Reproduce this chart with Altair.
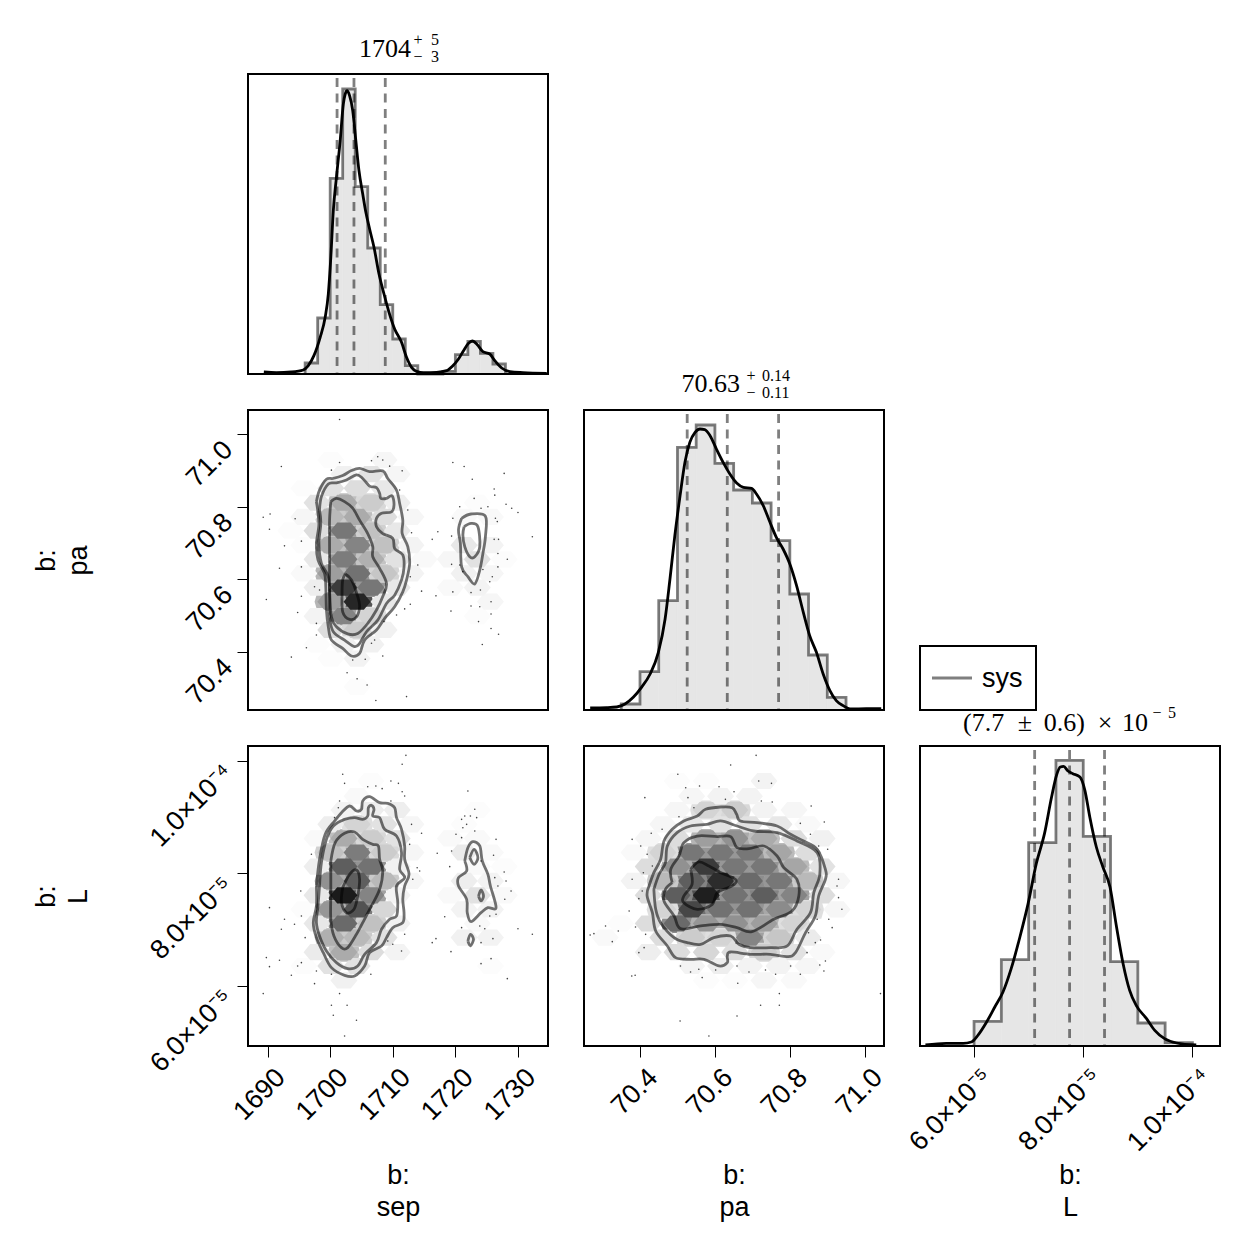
import altair as alt
import pandas as pd

SANS = "Liberation Sans"
SERIF = "Liberation Serif"

# ---------- axis domains ----------
sep_domain = [1686.87, 1734.8]
pa_x_domain = [70.2505, 71.0514]
pa_y_domain = [70.239, 71.067]
L_x_domain = [5.01, 10.505]
L_y_domain = [4.935, 10.261]
sep_ticks = [1690, 1700, 1710, 1720, 1730]
pa_ticks = [70.4, 70.6, 70.8, 71.0]
L_ticks = [6, 8, 10]

# ---------- 1-D histograms and densities ----------
sep_edges = [1696, 1698, 1700, 1702, 1704, 1706, 1708, 1710, 1712, 1714, 1716, 1718, 1720, 1722, 1724, 1726, 1728]
sep_hist = [33, 168, 587, 855, 562, 378, 208, 105, 25, 0, 0, 8, 58, 98, 62, 30]
sep_quant = [1701.1, 1703.8, 1708.8]
sep_kde_x = [1689.4, 1691.4, 1693.8, 1695.7, 1696.5, 1697.4, 1698.4, 1699.2, 1699.7, 1700.1, 1700.5, 1701.0, 1701.6, 1702.1, 1702.4, 1702.7, 1703.1, 1703.6, 1704.1, 1704.6, 1705.2, 1705.7, 1706.3, 1707.0, 1707.8, 1708.6, 1709.4, 1710.3, 1711.4, 1712.2, 1713.0, 1713.8, 1714.9, 1717.0, 1718.6, 1719.6, 1720.5, 1721.3, 1722.1, 1722.7, 1723.5, 1724.4, 1725.5, 1726.3, 1727.4, 1728.7, 1730.8, 1734.6]
sep_kde_y = [6, 4, 6, 12, 25, 55, 110, 170, 240, 350, 490, 590, 700, 810, 840, 850, 835, 790, 700, 610, 540, 485, 435, 380, 300, 240, 185, 135, 95, 50, 20, 8, 4, 5, 10, 25, 45, 70, 92, 99, 88, 67, 60, 40, 18, 7, 4, 2]

pa_edges = [70.35, 70.40, 70.45, 70.50, 70.55, 70.60, 70.65, 70.70, 70.75, 70.80, 70.85, 70.90, 70.95]
pa_hist = [18, 115, 328, 788, 855, 740, 660, 621, 508, 348, 165, 38]
pa_quant = [70.526, 70.633, 70.770]
pa_kde_x = [70.267, 70.311, 70.338, 70.360, 70.382, 70.404, 70.427, 70.449, 70.467, 70.480, 70.493, 70.507, 70.520, 70.533, 70.547, 70.560, 70.573, 70.587, 70.604, 70.622, 70.640, 70.658, 70.676, 70.698, 70.711, 70.729, 70.747, 70.764, 70.782, 70.800, 70.818, 70.836, 70.853, 70.871, 70.889, 70.907, 70.924, 70.942, 70.964, 71.004, 71.044]
pa_kde_y = [6, 7, 9, 18, 38, 68, 108, 173, 273, 393, 523, 643, 743, 803, 833, 843, 841, 823, 783, 743, 708, 681, 668, 665, 648, 613, 563, 518, 483, 438, 373, 293, 223, 173, 108, 58, 28, 13, 3, 4, 4]

L_edges = [6.0, 6.5, 7.0, 7.5, 8.0, 8.5, 9.0, 9.5, 10.0]
L_hist = [74, 259, 610, 857, 629, 253, 69, 10]
L_quant = [7.11, 7.75, 8.39]
L_kde_x = [5.11, 5.49, 5.80, 5.95, 6.07, 6.23, 6.38, 6.53, 6.68, 6.84, 6.99, 7.14, 7.29, 7.42, 7.51, 7.58, 7.64, 7.72, 7.81, 7.94, 8.03, 8.12, 8.24, 8.36, 8.49, 8.61, 8.73, 8.85, 8.97, 9.16, 9.31, 9.49, 9.71, 10.07]
L_kde_y = [3, 8, 8, 12, 32, 72, 117, 162, 232, 327, 427, 547, 637, 747, 812, 837, 839, 825, 817, 807, 767, 687, 597, 537, 477, 357, 247, 167, 122, 82, 47, 22, 9, 3]

# ---------- hexagon bins: row value, column values, darkness ----------
sp_rows = [70.929, 70.890, 70.851, 70.811, 70.772, 70.734, 70.694, 70.655, 70.616, 70.577, 70.538, 70.498, 70.460, 70.420, 70.381, 70.303]
sp_cols = [[1708.6, 1700.1], [1702.2, 1706.5, 1710.7], [1695.8, 1700.1, 1704.3, 1708.6], [1697.9, 1702.2, 1706.5, 1710.7, 1723.5],
           [1695.8, 1700.1, 1704.3, 1708.6, 1712.9, 1721.4, 1725.6], [1693.7, 1697.9, 1702.2, 1706.5, 1710.7],
           [1695.8, 1700.1, 1704.3, 1708.6, 1712.9, 1721.4, 1725.6], [1697.9, 1702.2, 1706.5, 1710.7, 1715.0, 1719.2, 1723.5, 1727.8],
           [1695.8, 1700.1, 1704.3, 1708.6, 1712.9, 1721.4, 1725.6], [1697.9, 1702.2, 1706.5, 1710.7, 1719.2, 1723.5],
           [1700.1, 1704.3, 1708.6, 1725.6], [1697.9, 1702.2, 1706.5, 1723.5], [1700.1, 1704.3, 1708.6], [1697.9, 1702.2, 1706.5], [1700.1, 1704.3], [1704.3]]
sp_vals = [[3, 1], [5, 10, 3], [1, 10, 12, 8], [10, 30, 18, 6, 1], [3, 25, 30, 12, 3, 2, 2], [1, 12, 50, 22, 8], [1, 30, 45, 22, 4, 8, 4],
           [8, 48, 28, 10, 2, 3, 10, 1], [2, 35, 52, 20, 4, 5, 3], [6, 75, 50, 8, 2, 4], [35, 85, 8, 3], [4, 45, 15, 1], [12, 18, 5], [1, 5, 5], [1, 4], [1]]

sl_rows = [9.64, 9.37, 9.125, 8.87, 8.62, 8.37, 8.12, 7.865, 7.61, 7.36, 7.11, 6.86, 6.60, 6.355, 6.10]
sl_cols = [[1706.5], [1704.3], [1702.2, 1706.5, 1710.7, 1723.5], [1700.1, 1704.3, 1708.6, 1712.9, 1721.4],
           [1697.9, 1702.2, 1706.5, 1710.7, 1719.2, 1723.5], [1700.1, 1704.3, 1708.6, 1712.9, 1721.4, 1725.6],
           [1697.9, 1702.2, 1706.5, 1710.7, 1723.5, 1727.8], [1700.1, 1704.3, 1708.6, 1712.9, 1721.4, 1725.6],
           [1697.9, 1702.2, 1706.5, 1710.7, 1719.2, 1723.5, 1727.8], [1695.8, 1700.1, 1704.3, 1708.6, 1721.4, 1725.6],
           [1697.9, 1702.2, 1706.5, 1710.7, 1723.5], [1700.1, 1704.3, 1708.6, 1721.4, 1725.6], [1697.9, 1702.2, 1706.5, 1710.7],
           [1695.8, 1700.1, 1704.3, 1725.6], [1702.2]]
sl_vals = [[1], [2], [4, 6, 6, 1], [6, 15, 10, 3, 1], [2, 30, 18, 10, 2, 2], [22, 48, 18, 3, 7, 2], [6, 60, 52, 5, 2, 1], [40, 60, 25, 3, 6, 4],
           [8, 90, 45, 4, 2, 10, 2], [1, 38, 65, 14, 4, 4], [8, 55, 22, 5, 2], [28, 25, 10, 5, 4], [7, 30, 12, 4], [1, 10, 10, 1], [5]]

pl_rows = [9.64, 9.37, 9.125, 8.87, 8.62, 8.37, 8.12, 7.865, 7.61, 7.36, 7.11, 6.86, 6.60, 6.355, 6.10]
pl_cols = [[70.499, 70.577, 70.731], [70.538, 70.615, 70.692], [70.499, 70.577, 70.653, 70.731, 70.811], [70.461, 70.538, 70.615, 70.692, 70.771, 70.848],
           [70.422, 70.499, 70.577, 70.653, 70.731, 70.811, 70.886], [70.384, 70.461, 70.538, 70.615, 70.692, 70.771, 70.848],
           [70.422, 70.499, 70.577, 70.653, 70.731, 70.811, 70.886], [70.384, 70.461, 70.538, 70.615, 70.692, 70.771, 70.848, 70.926],
           [70.422, 70.499, 70.577, 70.653, 70.731, 70.811, 70.886], [70.461, 70.538, 70.615, 70.692, 70.771, 70.848, 70.926],
           [70.348, 70.422, 70.499, 70.577, 70.653, 70.731, 70.811], [70.307, 70.461, 70.538, 70.615, 70.692, 70.771, 70.848],
           [70.422, 70.499, 70.577, 70.653, 70.731, 70.811, 70.886], [70.538, 70.615, 70.692, 70.771, 70.848], [70.577, 70.653, 70.731, 70.811]]
pl_vals = [[1, 1, 4], [3, 4, 4], [3, 15, 18, 4, 3], [3, 8, 10, 10, 8, 2], [3, 12, 35, 40, 30, 12, 5], [2, 15, 50, 50, 50, 32, 12], [12, 40, 75, 50, 50, 32, 10],
           [4, 25, 60, 82, 55, 50, 25, 3], [12, 60, 88, 52, 60, 45, 12], [15, 70, 52, 52, 42, 15, 3], [1, 12, 55, 38, 40, 35, 15], [2, 12, 18, 15, 45, 20, 7],
           [6, 12, 14, 12, 18, 10, 2], [4, 6, 4, 4, 3], [1, 1, 3, 2]]

# ---------- contours ----------
sp_contours_x = [
    [1697.8, 1698.3, 1699.4, 1700.5, 1702.0, 1703.4, 1704.7, 1706.3, 1708.4, 1709.2, 1710.6, 1711.1, 1711.6, 1711.5, 1712.4, 1712.7, 1712.2, 1711.6, 1710.3, 1708.7, 1707.4, 1705.5, 1704.7, 1703.4, 1702.0, 1700.2, 1699.7, 1699.4, 1699.3, 1699.1, 1698.05, 1697.8, 1698.2, 1697.8],
    [1698.3, 1698.6, 1699.7, 1701.0, 1702.6, 1704.2, 1705.2, 1706.3, 1707.4, 1707.9, 1708.1, 1709.0, 1709.9, 1710.2, 1709.8, 1708.2, 1707.4, 1707.4, 1708.4, 1710.0, 1710.3, 1711.6, 1711.8, 1711.4, 1710.3, 1709.0, 1707.6, 1705.8, 1704.7, 1703.9, 1702.3, 1700.5, 1699.9, 1699.9, 1699.7, 1698.6, 1698.2, 1698.5, 1698.3],
    [1700.1, 1701.0, 1702.3, 1703.6, 1704.7, 1706.0, 1706.8, 1706.8, 1707.9, 1709.0, 1708.4, 1707.4, 1706.0, 1704.4, 1702.8, 1701.0, 1700.2, 1699.9, 1699.9, 1699.9, 1699.9, 1700.1],
    [1702.4, 1703.4, 1704.4, 1704.7, 1704.2, 1703.1, 1702.0, 1701.9, 1702.0, 1702.4],
    [1721.0, 1722.5, 1724.8, 1724.8, 1724.4, 1723.9, 1723.1, 1722.0, 1721.0, 1720.8, 1720.5, 1721.0],
    [1721.4, 1722.5, 1723.6, 1723.9, 1723.1, 1722.3, 1721.5, 1721.2, 1721.4],
]
sp_contours_y = [
    [70.814, 70.846, 70.876, 70.878, 70.886, 70.900, 70.906, 70.897, 70.899, 70.878, 70.846, 70.809, 70.763, 70.726, 70.690, 70.644, 70.598, 70.565, 70.524, 70.492, 70.460, 70.432, 70.395, 70.388, 70.409, 70.432, 70.469, 70.515, 70.579, 70.616, 70.653, 70.699, 70.754, 70.814],
    [70.791, 70.828, 70.863, 70.866, 70.874, 70.888, 70.878, 70.857, 70.853, 70.837, 70.823, 70.823, 70.830, 70.805, 70.786, 70.782, 70.768, 70.745, 70.726, 70.713, 70.685, 70.667, 70.634, 70.598, 70.556, 70.533, 70.487, 70.455, 70.423, 70.414, 70.432, 70.455, 70.496, 70.552, 70.607, 70.644, 70.699, 70.754, 70.791],
    [70.814, 70.823, 70.814, 70.796, 70.763, 70.726, 70.690, 70.662, 70.630, 70.588, 70.552, 70.515, 70.478, 70.450, 70.449, 70.469, 70.496, 70.570, 70.625, 70.699, 70.763, 70.814],
    [70.614, 70.598, 70.552, 70.524, 70.496, 70.489, 70.510, 70.561, 70.598, 70.614],
    [70.768, 70.780, 70.774, 70.717, 70.671, 70.625, 70.587, 70.607, 70.634, 70.699, 70.736, 70.768],
    [70.745, 70.754, 70.745, 70.690, 70.662, 70.662, 70.690, 70.722, 70.745],
]
sl_contours_x = [
    [1697.8, 1698.3, 1699.2, 1700.7, 1701.8, 1703.1, 1704.2, 1705.0, 1705.2, 1706.3, 1707.9, 1709.2, 1710.3, 1710.6, 1711.4, 1711.9, 1711.9, 1712.6, 1711.9, 1711.6, 1711.8, 1711.6, 1710.0, 1709.0, 1708.2, 1706.3, 1705.5, 1703.9, 1702.3, 1700.2, 1698.9, 1697.8, 1697.3, 1697.8, 1697.8],
    [1698.3, 1698.6, 1699.4, 1700.5, 1702.3, 1703.9, 1705.2, 1706.0, 1706.1, 1706.6, 1707.0, 1706.8, 1707.9, 1708.7, 1710.6, 1711.4, 1711.1, 1711.9, 1710.6, 1710.8, 1710.6, 1709.5, 1708.2, 1707.4, 1705.5, 1704.4, 1702.8, 1701.0, 1699.4, 1698.3, 1697.8, 1698.05, 1698.3],
    [1700.1, 1700.8, 1702.3, 1703.9, 1705.2, 1706.8, 1707.7, 1707.9, 1708.4, 1707.9, 1706.6, 1705.2, 1704.2, 1702.8, 1701.8, 1700.6, 1700.1, 1700.1, 1700.1],
    [1702.0, 1703.1, 1704.2, 1704.7, 1704.4, 1703.8, 1702.6, 1701.8, 1702.0],
    [1721.5, 1722.0, 1722.8, 1723.9, 1724.3, 1725.2, 1725.6, 1726.5, 1725.2, 1724.1, 1722.5, 1721.9, 1721.8, 1720.5, 1720.5, 1721.8, 1721.5],
    [1722.3, 1723.0, 1723.6, 1723.0, 1722.3],
    [1723.7, 1724.1, 1724.5, 1724.1, 1723.7],
    [1722.0, 1722.4, 1722.9, 1722.4, 1722.0],
]
sl_contours_y = [
    [7.776, 8.249, 8.693, 8.930, 9.078, 9.196, 9.107, 9.137, 9.285, 9.362, 9.255, 9.243, 9.166, 8.989, 8.782, 8.486, 8.249, 7.983, 7.776, 7.539, 7.302, 7.125, 7.036, 6.859, 6.711, 6.592, 6.356, 6.178, 6.190, 6.326, 6.592, 6.859, 7.125, 7.421, 7.776],
    [7.776, 8.190, 8.604, 8.841, 8.959, 8.989, 8.959, 9.018, 9.166, 9.208, 9.137, 9.018, 8.989, 8.782, 8.663, 8.368, 8.072, 7.924, 7.776, 7.480, 7.243, 7.184, 7.007, 6.770, 6.563, 6.356, 6.308, 6.415, 6.622, 6.888, 7.125, 7.421, 7.776],
    [8.220, 8.545, 8.711, 8.734, 8.604, 8.515, 8.486, 8.249, 8.042, 7.717, 7.421, 7.125, 6.918, 6.681, 6.681, 6.888, 7.184, 7.657, 8.220],
    [7.746, 7.983, 8.060, 7.894, 7.598, 7.362, 7.302, 7.480, 7.746],
    [8.220, 8.456, 8.563, 8.486, 8.220, 7.983, 7.776, 7.391, 7.391, 7.302, 7.143, 7.302, 7.539, 7.776, 7.924, 8.042, 8.220],
    [8.279, 8.427, 8.279, 8.160, 8.279],
    [7.598, 7.705, 7.598, 7.510, 7.598],
    [6.799, 6.918, 6.829, 6.711, 6.799],
]
pl_contours_x = [
    [70.424, 70.437, 70.455, 70.464, 70.486, 70.517, 70.553, 70.575, 70.615, 70.646, 70.658, 70.668, 70.713, 70.766, 70.802, 70.837, 70.873, 70.895, 70.895, 70.877, 70.868, 70.842, 70.815, 70.793, 70.748, 70.695, 70.642, 70.633, 70.633, 70.611, 70.571, 70.535, 70.495, 70.473, 70.442, 70.433, 70.419, 70.424],
    [70.437, 70.451, 70.468, 70.473, 70.499, 70.535, 70.579, 70.615, 70.659, 70.704, 70.766, 70.819, 70.873, 70.880, 70.864, 70.855, 70.819, 70.793, 70.748, 70.695, 70.664, 70.642, 70.597, 70.562, 70.526, 70.491, 70.455, 70.442, 70.437],
    [70.486, 70.482, 70.504, 70.517, 70.553, 70.606, 70.642, 70.659, 70.691, 70.731, 70.766, 70.784, 70.819, 70.824, 70.806, 70.757, 70.699, 70.659, 70.615, 70.562, 70.508, 70.491, 70.464, 70.468, 70.486],
    [70.535, 70.557, 70.584, 70.615, 70.655, 70.646, 70.606, 70.593, 70.553, 70.517, 70.517, 70.539, 70.535],
]
pl_contours_y = [
    [7.776, 8.013, 8.249, 8.575, 8.782, 8.930, 9.018, 9.137, 9.178, 9.166, 9.048, 8.930, 8.900, 8.841, 8.693, 8.575, 8.427, 8.072, 7.894, 7.598, 7.243, 6.947, 6.592, 6.521, 6.563, 6.563, 6.604, 6.533, 6.415, 6.356, 6.474, 6.474, 6.504, 6.711, 6.977, 7.302, 7.598, 7.776],
    [7.717, 7.983, 8.190, 8.486, 8.723, 8.841, 8.870, 8.930, 8.841, 8.752, 8.723, 8.575, 8.368, 7.983, 7.657, 7.302, 7.007, 6.711, 6.681, 6.681, 6.740, 6.888, 6.859, 6.740, 6.770, 6.859, 7.125, 7.362, 7.717],
    [7.835, 8.072, 8.308, 8.545, 8.663, 8.652, 8.652, 8.456, 8.439, 8.486, 8.308, 8.101, 7.894, 7.598, 7.332, 7.184, 6.965, 7.036, 7.095, 7.066, 7.018, 7.243, 7.510, 7.717, 7.835],
    [8.072, 8.202, 8.131, 8.013, 7.894, 7.776, 7.657, 7.450, 7.362, 7.480, 7.598, 7.805, 8.072],
]

# ---------- stray samples ----------
sp_dots_x = [1701.5, 1692.2, 1701.5, 1700.2, 1689.3, 1690.4, 1690.3, 1694.4, 1692.7, 1695.4, 1691.9, 1695.4, 1689.8, 1695.4, 1694.8, 1696.2, 1693.8, 1702.7, 1704.3, 1705.9, 1707.3, 1712.2, 1708.4, 1705.6, 1703.6, 1706.6, 1697.8, 1697.5, 1698.3, 1697.8, 1706.6, 1707.6, 1708.4, 1709.5, 1711.5, 1711.1, 1712.4, 1713.0, 1714.0, 1712.8, 1714.6, 1712.8, 1711.9, 1710.6, 1708.6, 1707.1, 1719.6, 1721.4, 1722.7, 1727.8, 1726.2, 1726.3, 1723.0, 1728.1, 1729.0, 1730.0, 1724.1, 1725.2, 1720.7, 1719.6, 1726.4, 1726.7, 1732.3, 1716.3, 1719.4, 1717.2, 1726.2, 1726.9, 1726.8, 1728.3, 1719.4, 1720.7, 1726.8, 1724.4, 1725.9, 1721.2, 1725.5, 1719.6, 1716.9, 1722.5, 1724.0, 1725.7, 1722.5, 1723.9, 1719.3, 1725.7, 1723.7, 1725.7, 1726.9, 1724.3]
sp_dots_y = [71.041, 70.911, 70.922, 70.901, 70.771, 70.780, 70.738, 70.767, 70.692, 70.705, 70.630, 70.634, 70.544, 70.553, 70.508, 70.411, 70.385, 70.342, 70.325, 70.308, 70.265, 70.276, 70.388, 70.379, 70.377, 70.423, 70.446, 70.579, 70.570, 70.478, 70.927, 70.938, 70.929, 70.912, 70.899, 70.846, 70.791, 70.728, 70.639, 70.607, 70.567, 70.531, 70.518, 70.501, 70.483, 70.432, 70.922, 70.911, 70.876, 70.892, 70.849, 70.832, 70.823, 70.807, 70.796, 70.784, 70.796, 70.800, 70.800, 70.768, 70.768, 70.759, 70.717, 70.710, 70.719, 70.731, 70.710, 70.710, 70.671, 70.655, 70.641, 70.639, 70.634, 70.627, 70.607, 70.621, 70.593, 70.565, 70.554, 70.563, 70.570, 70.538, 70.526, 70.524, 70.512, 70.504, 70.483, 70.464, 70.448, 70.420]
sl_dots_x = [1712.1, 1711.5, 1702.0, 1702.3, 1706.0, 1707.3, 1708.3, 1709.7, 1710.9, 1711.5, 1711.9, 1701.5, 1701.3, 1709.7, 1700.7, 1713.0, 1714.6, 1697.0, 1712.7, 1713.9, 1714.3, 1713.2, 1695.3, 1690.3, 1692.7, 1695.4, 1694.3, 1692.2, 1696.0, 1689.8, 1690.3, 1691.9, 1693.8, 1695.4, 1694.8, 1697.5, 1689.3, 1701.5, 1700.2, 1702.7, 1700.5, 1704.2, 1702.3, 1697.8, 1700.2, 1706.5, 1711.4, 1711.9, 1710.0, 1709.2, 1722.0, 1723.1, 1721.5, 1722.4, 1721.0, 1723.4, 1721.8, 1721.2, 1720.1, 1721.0, 1723.1, 1726.5, 1719.4, 1717.1, 1726.1, 1724.1, 1719.1, 1727.8, 1726.3, 1728.1, 1726.8, 1728.9, 1727.9, 1726.5, 1725.5, 1718.3, 1721.0, 1723.9, 1724.7, 1730.0, 1732.3, 1716.9, 1716.3, 1724.1, 1726.0, 1719.3, 1725.7, 1724.1, 1728.3]
sl_dots_y = [10.095, 9.936, 9.758, 9.598, 9.539, 9.551, 9.504, 9.640, 9.598, 9.450, 9.373, 9.285, 9.166, 9.285, 8.989, 8.870, 8.711, 8.338, 8.515, 8.101, 8.042, 7.894, 7.687, 7.391, 7.184, 7.243, 7.095, 7.007, 6.859, 6.504, 6.344, 6.456, 6.190, 6.415, 6.355, 6.042, 5.865, 5.865, 5.658, 5.658, 5.480, 5.391, 5.113, 6.267, 6.208, 6.208, 6.622, 6.918, 6.740, 6.800, 9.462, 9.137, 9.018, 9.018, 8.959, 8.989, 8.870, 8.811, 8.693, 8.634, 8.752, 8.604, 8.397, 8.356, 8.320, 8.220, 8.119, 8.024, 7.924, 7.865, 7.776, 7.687, 7.539, 7.273, 7.243, 7.231, 7.036, 7.066, 7.018, 7.018, 6.918, 6.841, 6.770, 6.770, 6.841, 6.610, 6.486, 6.397, 6.131]
pl_dots_x = [70.710, 70.642, 70.501, 70.717, 70.751, 70.559, 70.522, 70.611, 70.651, 70.528, 70.413, 70.628, 70.724, 70.857, 70.753, 70.544, 70.504, 70.459, 70.430, 70.379, 70.402, 70.419, 70.892, 70.828, 70.855, 70.877, 70.901, 70.433, 70.409, 70.379, 70.930, 70.926, 70.406, 70.397, 70.930, 70.939, 70.371, 70.913, 70.904, 70.873, 70.388, 70.415, 70.267, 70.277, 70.308, 70.342, 70.326, 70.850, 70.882, 70.868, 70.411, 70.397, 70.846, 70.895, 70.880, 70.891, 70.802, 70.508, 70.535, 70.557, 70.378, 70.387, 70.566, 70.602, 70.659, 70.691, 70.735, 70.762, 70.828, 70.661, 70.772, 70.722, 70.772, 70.659, 70.507, 70.584, 71.042]
pl_dots_y = [10.095, 9.924, 9.758, 9.640, 9.598, 9.551, 9.521, 9.539, 9.450, 9.344, 9.344, 9.314, 9.285, 9.196, 9.267, 9.166, 9.006, 8.782, 8.711, 8.604, 8.486, 8.338, 8.912, 8.888, 8.693, 8.486, 8.427, 8.131, 8.012, 7.894, 7.894, 7.776, 7.687, 7.551, 7.569, 7.362, 7.332, 7.036, 7.184, 7.184, 7.048, 6.917, 6.906, 6.930, 7.066, 6.977, 6.788, 6.947, 6.817, 6.770, 6.681, 6.592, 6.592, 6.445, 6.374, 6.267, 6.355, 6.355, 6.249, 6.297, 6.178, 6.190, 6.149, 6.285, 6.355, 6.249, 6.285, 6.208, 6.208, 6.048, 5.865, 5.658, 5.658, 5.468, 5.380, 5.113, 5.865]

# ---------- helpers ----------
GRAY = "#000000"
HEX_PATH = "M-1,0L-0.5,-0.6L0.5,-0.6L1,0L0.5,0.6L-0.5,0.6Z"
HEX_UNDER = "M-1.2,0L-1,-0.7L1,-0.7L1.2,0L1,0.7L-1,0.7Z"
blank = alt.Data(values=[{"a": 1}])
W = 300
LABEL = 27


def axis(values, title=None, expr=None, orient="x", offset=8):
    kw = dict(values=values, tickColor="black", tickSize=11, tickWidth=1, domain=False, grid=False,
              labelFont=SANS, labelFontSize=LABEL, labelColor="black", labelOverlap=False, labelBound=False,
              labelFlush=False, labelAngle=-45, labelAlign="right", labelBaseline="middle",
              titleFont=SANS, titleFontSize=LABEL, titleFontWeight="normal", titleColor="black", titleLineHeight=32)
    kw["labelExpr"] = expr
    if orient == "x":
        kw.update(labelPadding=16, labelOffset=13, title=title, titleX=150, titleY=116)
    else:
        kw.update(labelPadding=9, labelOffset=offset, title=title, titleX=-188, titleY=150, titleAngle=270)
    return alt.Axis(**kw)


def enc_x(domain, ax=None):
    s = alt.Scale(domain=domain, nice=False, zero=False)
    return alt.X("x:Q", scale=s, axis=ax)


def enc_y(domain, ax=None):
    s = alt.Scale(domain=domain, nice=False, zero=False)
    return alt.Y("y:Q", scale=s, axis=ax)


def txt(s, x, y, size, font=SANS, align="left"):
    return alt.Chart(blank).mark_text(text=s, font=font, fontSize=size, align=align, baseline="alphabetic",
                                      color="black").encode(x=alt.value(x), y=alt.value(y))


def frame(x0=0, x1=W, y0=0, y1=W):
    return alt.Chart(blank).mark_rect(fillOpacity=0, stroke="black", strokeWidth=2).encode(
        x=alt.value(x0), x2=alt.value(x1), y=alt.value(y0), y2=alt.value(y1))


def diag(edges, hist, quant, kx, ky, xdom, xaxis, texts):
    bars = pd.DataFrame({"x": edges[:-1], "x2": edges[1:], "y": hist})
    step = pd.DataFrame({"x": [edges[0]] + edges, "y": [0] + hist + [0], "i": range(len(edges) + 1)})
    kde = pd.DataFrame({"x": kx, "y": ky, "i": range(len(kx))})
    ydom = [0, 900]
    layers = [
        alt.Chart(bars).mark_rect(color="#e6e6e6", stroke="#e6e6e6", strokeWidth=0.6).encode(
            x=enc_x(xdom, xaxis), x2="x2:Q", y=enc_y(ydom), y2=alt.value(W)),
        alt.Chart(step).mark_line(interpolate="step-after", color=GRAY, opacity=0.5, strokeWidth=2.8).encode(
            x=enc_x(xdom, xaxis), y=enc_y(ydom), order="i:Q"),
        alt.Chart(pd.DataFrame({"x": quant})).mark_rule(color=GRAY, opacity=0.5, strokeWidth=2.8, strokeDash=[9, 6.5]).encode(
            x=enc_x(xdom, xaxis), y=alt.value(4), y2=alt.value(W)),
        alt.Chart(kde).mark_line(interpolate="monotone", color="black", strokeWidth=2.8).encode(
            x=enc_x(xdom, xaxis), y=enc_y(ydom), order="i:Q"),
        frame(),
    ] + texts
    return alt.layer(*layers).properties(width=W, height=W)


def joint(rows, cols, vals, cx, cy, dx, dy, xdom, ydom, xaxis=None, yaxis=None):
    recs = [{"x": c, "y": r, "v": v} for r, cs, vs in zip(rows, cols, vals) for c, v in zip(cs, vs)]
    hexes = pd.DataFrame(recs).sort_values("v")
    under = hexes[hexes["v"] >= 15].sort_values("v", ascending=False).copy()
    under["v"] = under["v"] * 0.75
    lines = pd.DataFrame([{"x": a, "y": b, "c": k, "i": i}
                          for k, (xs, ys) in enumerate(zip(cx, cy)) for i, (a, b) in enumerate(zip(xs, ys))])
    dots = pd.DataFrame({"x": dx, "y": dy})
    gray = alt.Color("v:Q", scale=alt.Scale(domain=[0, 100], range=["#ffffff", "#000000"]), legend=None)
    return alt.layer(
        alt.Chart(under).mark_point(filled=True, shape=HEX_UNDER, size=729, opacity=1, strokeWidth=0).encode(
            x=enc_x(xdom, xaxis), y=enc_y(ydom, yaxis), color=gray),
        alt.Chart(hexes).mark_point(filled=True, shape=HEX_PATH, size=729, opacity=1, strokeWidth=0).encode(
            x=enc_x(xdom, xaxis), y=enc_y(ydom, yaxis), color=gray),
        alt.Chart(dots).mark_circle(size=2.5, color="black", opacity=0.75).encode(
            x=enc_x(xdom, xaxis), y=enc_y(ydom, yaxis)),
        alt.Chart(lines).mark_line(interpolate="cardinal", color=GRAY, opacity=0.55, strokeWidth=2.8).encode(
            x=enc_x(xdom, xaxis), y=enc_y(ydom, yaxis), detail="c:N", order="i:Q"),
        frame(),
    ).properties(width=W, height=W)


def empty():
    return alt.Chart(blank).mark_text(text=" ").encode(x=alt.value(0), y=alt.value(0)).properties(width=W, height=W)


FMT = "format(datum.value, '.1f')"
L_EXPR = "datum.value >= 10 ? '1.0×10⁻⁴' : format(datum.value, '.1f') + '×10⁻⁵'"
SUB = 16

title_sep = [txt("1704", 163, -17, 26, SERIF, "right"), txt("+", 170, -29, SUB, SERIF, "center"), txt("5", 187, -29, SUB, SERIF, "center"),
             txt("−", 170, -12, SUB, SERIF, "center"), txt("3", 187, -12, SUB, SERIF, "center")]
title_pa = [txt("70.63", 156, -18, 26, SERIF, "right"), txt("+", 167, -29, SUB, SERIF, "center"), txt("0.14", 178, -29, SUB, SERIF),
            txt("−", 167, -12, SUB, SERIF, "center"), txt("0.11", 178, -12, SUB, SERIF)]
title_L = [txt("(7.7", 43, -15, 26, SERIF), txt("±", 105, -15, 26, SERIF, "center"), txt("0.6)", 165, -15, 26, SERIF, "right"),
           txt("×", 185, -15, 26, SERIF, "center"), txt("10", 228, -15, 26, SERIF, "right"),
           txt("−", 237, -28, SUB, SERIF, "center"), txt("5", 252, -28, SUB, SERIF, "center")]

p_sep = diag(sep_edges, sep_hist, sep_quant, sep_kde_x, sep_kde_y, sep_domain, None, title_sep)
p_pa = diag(pa_edges, pa_hist, pa_quant, pa_kde_x, pa_kde_y, pa_x_domain, None, title_pa)
p_L = diag(L_edges, L_hist, L_quant, L_kde_x, L_kde_y, L_x_domain,
           axis(L_ticks, ["b:", "L"], L_EXPR), title_L)

p_sp = joint(sp_rows, sp_cols, sp_vals, sp_contours_x, sp_contours_y, sp_dots_x, sp_dots_y, sep_domain, pa_y_domain,
             None, axis(pa_ticks, ["b:", "pa"], FMT, "y", 11))
p_sl = joint(sl_rows, sl_cols, sl_vals, sl_contours_x, sl_contours_y, sl_dots_x, sl_dots_y, sep_domain, L_y_domain,
             axis(sep_ticks, ["b:", "sep"], "format(datum.value, 'd')"), axis(L_ticks, ["b:", "L"], L_EXPR, "y", 8))
p_pl = joint(pl_rows, pl_cols, pl_vals, pl_contours_x, pl_contours_y, pl_dots_x, pl_dots_y, pa_x_domain, L_y_domain,
             axis(pa_ticks, ["b:", "pa"], FMT), None)

legend_cell = alt.layer(
    frame(0, 116, 236, 300),
    alt.Chart(blank).mark_rule(color=GRAY, opacity=0.5, strokeWidth=2.8).encode(
        x=alt.value(12), x2=alt.value(52), y=alt.value(268)),
    txt("sys", 62, 277, LABEL),
).properties(width=W, height=W)

chart = alt.concat(
    p_sep, empty(), empty(), p_sp, p_pa, legend_cell, p_sl, p_pl, p_L, columns=3, spacing=36, bounds="flush"
).properties(padding={"left": 24, "top": 24, "right": 5, "bottom": 5}, background="white").configure_view(strokeWidth=0)

chart.save("out.html", embed_options={"renderer": "svg", "actions": False})
